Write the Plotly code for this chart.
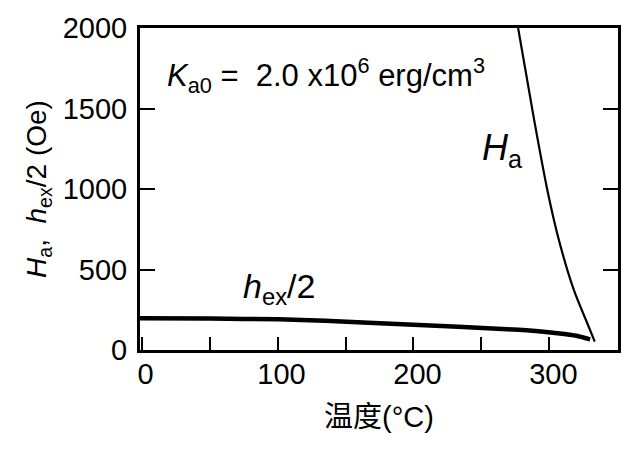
import plotly.graph_objects as go

# ---- data ----
hex_temp = [-1.2, 50, 101, 135, 167, 200, 233, 269, 290, 306, 320, 330]
hex_half = [197, 195, 191, 182, 170, 157, 145, 129, 118, 104, 88, 66]

ha_temp = [277, 288.8, 298.5, 307, 318, 327.9, 333.4]
ha_val = [2000, 1429, 994, 683, 373, 166, 52]

x_tickvals = [0, 50, 100, 150, 200, 250, 300]
x_ticktext = ["0", "", "100", "", "200", "", "300"]
y_tickvals = [0, 500, 1000, 1500, 2000]
y_ticktext = ["0", "500", "1000", "1500", "2000"]

FONT = "Liberation Sans, Arial, Noto Sans CJK SC, sans-serif"

fig = go.Figure()
fig.add_trace(go.Scatter(x=hex_temp, y=hex_half, mode="lines",
                         line=dict(color="black", width=4.5, shape="spline", smoothing=0.5),
                         showlegend=False, hoverinfo="skip"))
fig.add_trace(go.Scatter(x=ha_temp, y=ha_val, mode="lines",
                         line=dict(color="black", width=2.2, shape="spline", smoothing=0.8),
                         showlegend=False, hoverinfo="skip"))

fig.update_layout(
    width=627, height=451,
    margin=dict(l=140, r=6, t=28, b=101),
    paper_bgcolor="white", plot_bgcolor="white",
    font=dict(family=FONT, color="black", size=28),
    xaxis=dict(range=[-1.2, 350.5], tickvals=x_tickvals, ticktext=x_ticktext,
               ticks="inside", ticklen=13, tickwidth=2, tickcolor="black",
               showline=True, linecolor="black", linewidth=3, mirror=True,
               showgrid=False, zeroline=False,
               tickfont=dict(size=29), ticklabelshift=4, ticklabelstandoff=-4,
               title=dict(text="温度(°C)", font=dict(size=29), standoff=18)),
    yaxis=dict(range=[0, 2000], tickvals=y_tickvals, ticktext=y_ticktext,
               ticks="inside", ticklen=15, tickwidth=2, tickcolor="black",
               showline=True, linecolor="black", linewidth=3, mirror="ticks",
               showgrid=False, zeroline=False,
               tickfont=dict(size=29), ticklabelstandoff=4,
               title=dict(text="<i>H</i><sub>a</sub>, &nbsp;<i>h</i><sub>ex</sub>/2 (Oe)",
                          font=dict(size=28), standoff=8)),
)

fig.add_annotation(x=17.1, y=1708, xref="x", yref="y", xanchor="left", yanchor="middle",
                   text="<i>K</i><sub>a0</sub> = &nbsp;2.0 x10<sup>6</sup> erg/cm<sup>3</sup>",
                   showarrow=False, font=dict(size=31))
fig.add_annotation(x=248.6, y=1242, xref="x", yref="y", xanchor="left", yanchor="middle",
                   text="<i>H</i><sub>a</sub>", showarrow=False, font=dict(size=36))
fig.add_annotation(x=73.2, y=379, xref="x", yref="y", xanchor="left", yanchor="middle",
                   text="<i>h</i><sub>ex</sub>/2", showarrow=False, font=dict(size=34))

fig.write_html("out.html")
